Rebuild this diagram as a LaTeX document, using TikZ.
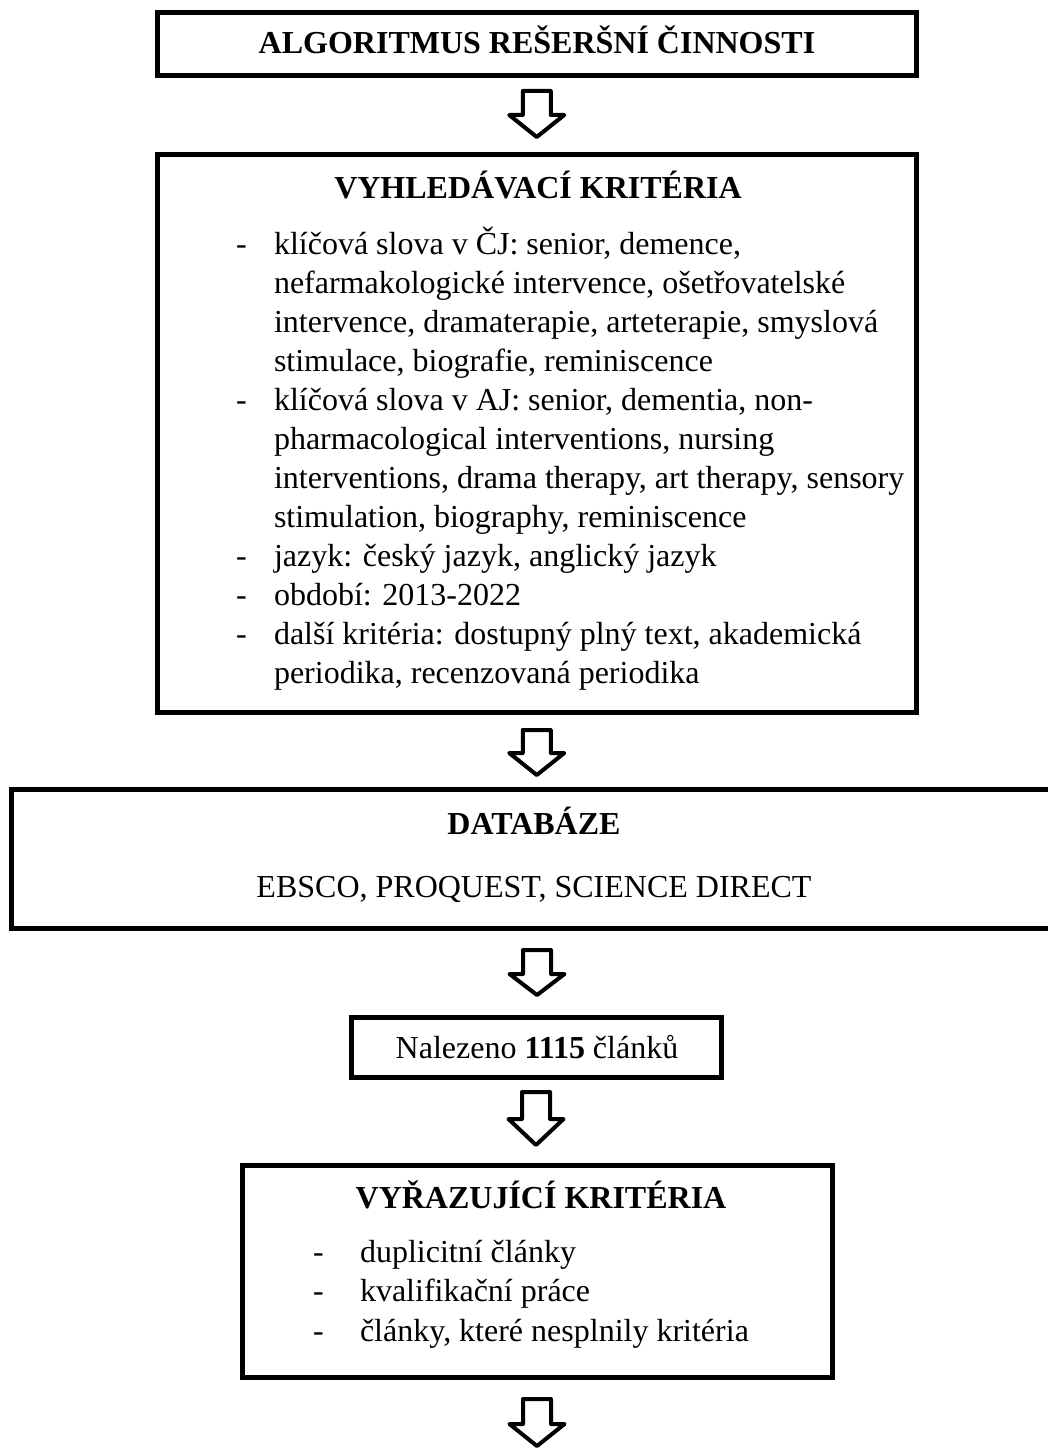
\documentclass[tikz,border=0pt]{standalone}
\usepackage{fontspec}
\setmainfont{Liberation Serif}
\usetikzlibrary{calc}
\newcommand\blockarrow[4]{% #1 start, #2 shaft length, #3 head length, #4 name
  \coordinate (#4) at #1;
  \draw[blockarr] ($(#4)+(-14,0)$) -- ($(#4)+(14,0)$) -- ($(#4)+(14,#2)$) -- ($(#4)+(27.5,#2)$)
    -- ($(#4)+(0,#2+#3)$) -- ($(#4)+(-27.5,#2)$) -- ($(#4)+(-14,#2)$) -- cycle;}
\begin{document}
\begin{tikzpicture}[x=1pt,y=-1pt,
  every node/.style={inner sep=0pt, outer sep=0pt, font=\fontsize{32}{39}\selectfont},
  box/.style={draw, line width=5pt, rectangle, anchor=north west},
  blockarr/.style={draw, line width=4pt, line join=round, fill=white},
  ttl/.style={anchor=base, font=\fontsize{32}{39}\selectfont\bfseries},
  txt/.style={anchor=base west},
  dashmark/.style={anchor=base west}]
\useasboundingbox (0,0) rectangle (1048,1450);
\clip (0,0) rectangle (1048,1450);
\fill[white] (0,0) rectangle (1048,1450);

% boxes
\node[box, minimum width=758.5pt, minimum height=62.5pt] (b1) at (157.5,13) {};
\node[box, minimum width=758.5pt, minimum height=557.5pt] (b2) at (157.5,154.5) {};
\node[box, minimum width=1051pt, minimum height=138.5pt] (b3) at (11.5,789.5) {};
\node[box, minimum width=370pt, minimum height=60pt] (b4) at (351,1017) {};
\node[box, minimum width=590pt, minimum height=212pt] (b5) at (242,1165.5) {};

% box 1
\node[ttl] (t1) at (537,54) {ALGORITMUS REŠERŠNÍ ČINNOSTI};

% box 2
\node[ttl] (t2) at (538,199) {VYHLEDÁVACÍ KRITÉRIA};
\node[dashmark] (d21) at (236,254) {-};
\node[txt] (l1) at (274,254) {klíčová slova v ČJ: senior, demence,};
\node[txt] (l2) at (274,293) {nefarmakologické intervence, ošetřovatelské};
\node[txt] (l3) at (274,332) {intervence, dramaterapie, arteterapie, smyslová};
\node[txt] (l4) at (274,371) {stimulace, biografie, reminiscence};
\node[dashmark] (d22) at (236,410) {-};
\node[txt] (l5) at (274,410) {klíčová slova v AJ: senior, dementia, non-};
\node[txt] (l6) at (274,449) {pharmacological interventions, nursing};
\node[txt] (l7) at (274,488) {interventions, drama therapy, art therapy, sensory};
\node[txt] (l8) at (274,527) {stimulation, biography, reminiscence};
\node[dashmark] (d23) at (236,566) {-};
\node[txt] (l9) at (274,566) {jazyk: český jazyk, anglický jazyk};
\node[dashmark] (d24) at (236,605) {-};
\node[txt] (l10) at (274,605) {období: 2013-2022};
\node[dashmark] (d25) at (236,644) {-};
\node[txt] (l11) at (274,644) {další kritéria: dostupný plný text, akademická};
\node[txt] (l12) at (274,683) {periodika, recenzovaná periodika};

% box 3
\node[ttl] (t3) at (534,834) {DATABÁZE};
\node[anchor=base] (l13) at (534,897) {EBSCO, PROQUEST, SCIENCE DIRECT};

% box 4
\node[anchor=base] (l14) at (537,1058) {Nalezeno \textbf{1115} článků};

% box 5
\node[ttl] (t5) at (541,1208) {VYŘAZUJÍCÍ KRITÉRIA};
\node[dashmark] (d51) at (313,1262) {-};
\node[txt] (l15) at (360,1262) {duplicitní články};
\node[dashmark] (d52) at (313,1301.5) {-};
\node[txt] (l16) at (360,1301.5) {kvalifikační práce};
\node[dashmark] (d53) at (313,1341) {-};
\node[txt] (l17) at (360,1341) {články, které nesplnily kritéria};

% block arrows
\blockarrow{($(b1.south)+(0,15.5)$)}{24}{22}{a1}
\blockarrow{($(b2.south)+(0,18)$)}{23}{22}{a2}
\blockarrow{($(b3.south)+(0,22)$)}{24}{21}{a3}
\blockarrow{($(b4.south)+(0,15)$)}{27}{26}{a4}
\blockarrow{($(b5.south)+(0,21.5)$)}{25}{22}{a5}
\end{tikzpicture}
\end{document}
